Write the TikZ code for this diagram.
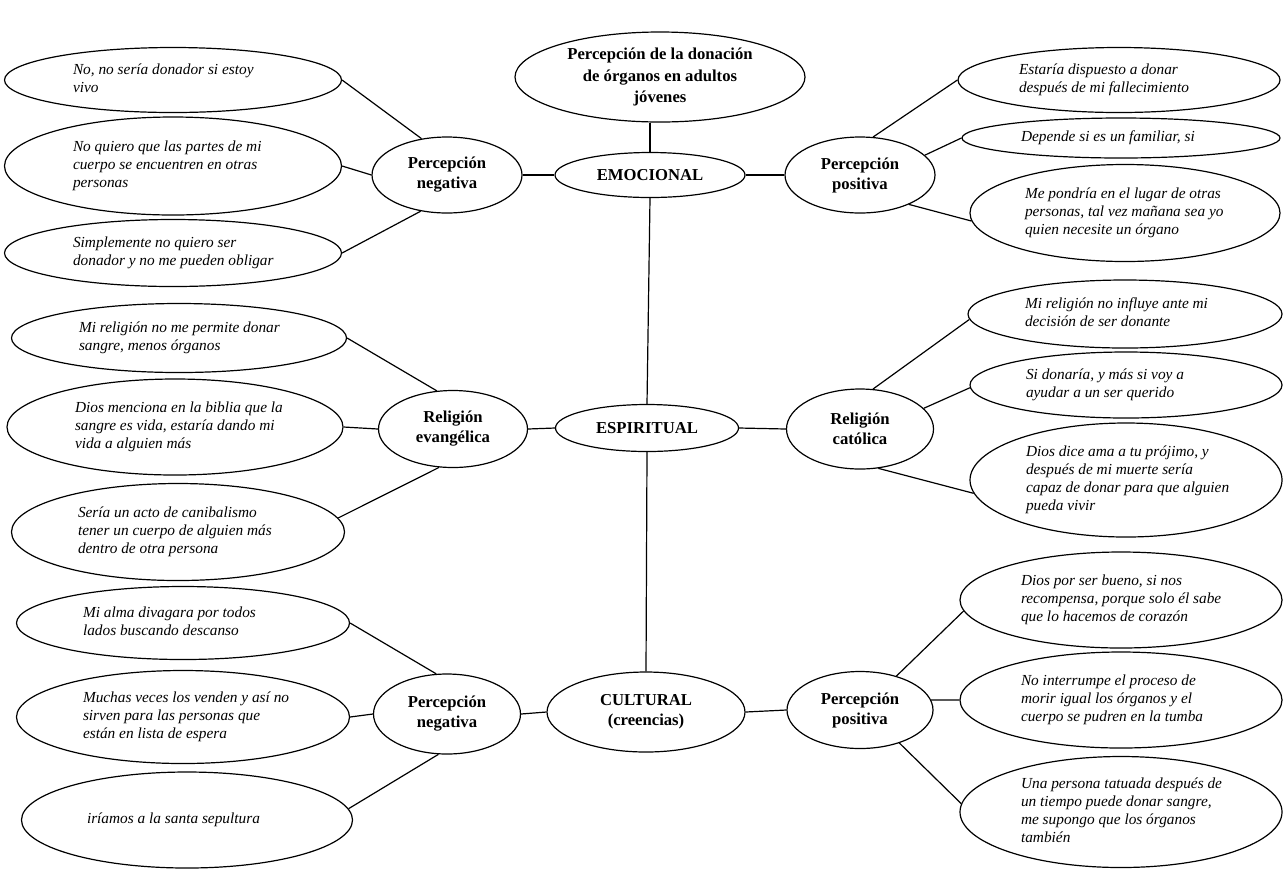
\documentclass[tikz,border=0pt]{standalone}
\usepackage{fontspec}
\setmainfont{Liberation Serif}
\usetikzlibrary{positioning,shapes}

\newcommand{\qtext}[1]{\makebox[150pt][l]{\begin{tabular}{@{}l@{}}#1\end{tabular}}}

\begin{document}
\begin{tikzpicture}[
  x=0.75pt, y=-0.75pt,
  line width=0.9pt,
  hub/.style={ellipse, draw, inner sep=0pt, align=center, font=\bfseries\fontsize{12.5}{15}\selectfont},
  quote/.style={ellipse, draw, inner sep=0pt, font=\itshape\fontsize{11.5}{13.5}\selectfont},
  size/.style 2 args={minimum width=#1*0.75pt, minimum height=#2*0.75pt}
]
\useasboundingbox (0,0) rectangle (1287,869);

\node (title) [hub, size={290}{90}, font=\bfseries\fontsize{12.5}{16.2}\selectfont] at (660,77) {Percepción de la donación\\de órganos en adultos\\jóvenes};
\node (emo) [hub, size={190}{45}] at (650,175) {EMOCIONAL};
\node (esp) [hub, size={183}{47}] at (647,428) {ESPIRITUAL};
\node (cul) [hub, size={198}{80}] at (646,712) {CULTURAL\\(creencias)};

\node (negE) [hub, size={150}{76}] at (447,175) {Percepción\\negativa};
\node (posE) [hub, size={150}{76}] at (860,175) {Percepción\\positiva};
\node (evang) [hub, size={149}{77}] at (453,429) {Religión\\evangélica};
\node (catol) [hub, size={147}{80}] at (860,429) {Religión\\católica};
\node (negC) [hub, size={147}{80}] at (447,714) {Percepción\\negativa};
\node (posC) [hub, size={146}{77}] at (860,710) {Percepción\\positiva};

\node (negE1) [quote, size={337}{65}] at (173,80) {\qtext{No, no sería donador si estoy\\vivo}};
\node (negE2) [quote, size={337}{98}] at (173,166) {\qtext{No quiero que las partes de mi\\cuerpo se encuentren en otras\\personas}};
\node (negE3) [quote, size={337}{67}] at (173,253) {\qtext{Simplemente no quiero ser\\donador y no me pueden obligar}};

\node (posE1) [quote, size={322}{65}] at (1119,80) {\qtext{Estaría dispuesto a donar\\después de mi fallecimiento}};
\node (posE2) [quote, size={318}{40}] at (1121,138) {\qtext{Depende si es un familiar, si}};
\node (posE3) [quote, size={310}{97}] at (1125,213) {\qtext{Me pondría en el lugar de otras\\personas, tal vez mañana sea yo\\quien necesite un órgano}};

\node (evang1) [quote, size={335}{69}] at (179,338) {\qtext{Mi religión no me permite donar\\sangre, menos órganos}};
\node (evang2) [quote, size={336}{96}] at (175,427) {\qtext{Dios menciona en la biblia que la\\sangre es vida, estaría dando mi\\vida a alguien más}};
\node (evang3) [quote, size={333}{97}] at (178,532) {\qtext{Sería un acto de canibalismo\\tener un cuerpo de alguien más\\dentro de otra persona}};

\node (catol1) [quote, size={314}{68}] at (1125,314) {\qtext{Mi religión no influye ante mi\\decisión de ser donante}};
\node (catol2) [quote, size={312}{66}] at (1126,385) {\qtext{Si donaría, y más si voy a\\ayudar a un ser querido}};
\node (catol3) [quote, size={312}{114}] at (1126,480) {\qtext{Dios dice ama a tu prójimo, y\\después de mi muerte sería\\capaz de donar para que alguien\\pueda vivir}};

\node (negC1) [quote, size={333}{73}] at (183,623) {\qtext{Mi alma divagara por todos\\lados buscando descanso}};
\node (negC2) [quote, size={333}{93}] at (183,717) {\qtext{Muchas veces los venden y así no\\sirven para las personas que\\están en lista de espera}};
\node (negC3) [quote, size={331}{96}] at (187,820) {\qtext{iríamos a la santa sepultura}};

\node (posC1) [quote, size={322}{96}] at (1121,600) {\qtext{Dios por ser bueno, si nos\\recompensa, porque solo él sabe\\que lo hacemos de corazón}};
\node (posC2) [quote, size={322}{96}] at (1121,700) {\qtext{No interrumpe el proceso de\\morir igual los órganos y el\\cuerpo se pudren en la tumba}};
\node (posC3) [quote, size={322}{111}] at (1121,812) {\qtext{Una persona tatuada después de\\un tiempo puede donar sangre,\\me supongo que los órganos\\también}};

% tronco central
\draw (emo.north) -- (emo.north |- title.south);
\draw (emo.south) -- (esp.north);
\draw (esp.south) -- (cul.north);
\draw (negE.east) -- (emo.west);
\draw (emo.east) -- (posE.west);
\draw (evang.east) -- (esp.west);
\draw (esp.east) -- (catol.west);
\draw (negC.east) -- (cul.west);
\draw (cul.east) -- (posC.west);

% ramas
\draw (negE.125) -- (negE1.east);
\draw (negE.west) -- (negE2.east);
\draw (negE.234) -- (negE3.east);
\draw (posE.71) -- (posE1.west);
\draw (posE.17) -- (posE2.west);
\draw (posE.329) -- (posE3.183);
\draw (evang.113) -- (evang1.east);
\draw (evang.west) -- (evang2.east);
\draw (evang.250) -- (evang3.5);
\draw (catol.72) -- (catol1.182);
\draw (catol.18) -- (catol2.181);
\draw (catol.295) -- (catol3.185);
\draw (negC.105) -- (negC1.east);
\draw (negC.west) -- (negC2.east);
\draw (negC.258) -- (negC3.4);
\draw (posC.43) -- (posC1.184);
\draw (posC.8) -- (posC2.west);
\draw (posC.320) -- (posC3.177);

\end{tikzpicture}
\end{document}
